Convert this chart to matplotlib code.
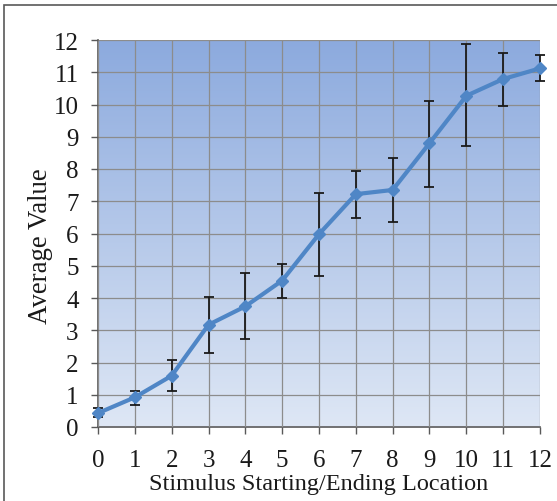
import matplotlib
matplotlib.use("Agg")
import matplotlib.pyplot as plt
import numpy as np
from matplotlib.patches import Rectangle

locations = list(range(13))
avg_value = [0.43, 0.92, 1.59, 3.17, 3.74, 4.54, 5.98, 7.22, 7.35, 8.80, 10.27, 10.79, 11.12]
err_low = [0.30, 0.68, 1.11, 2.30, 2.73, 3.99, 4.69, 6.49, 6.35, 7.45, 8.70, 9.96, 10.72]
err_high = [0.58, 1.13, 2.09, 4.02, 4.78, 5.04, 7.25, 7.95, 8.35, 10.12, 11.88, 11.59, 11.53]

plt.rcParams["font.family"] = ["Liberation Serif", "DejaVu Serif"]

fig = plt.figure(figsize=(5.57, 5.02), dpi=100)
ax = fig.add_axes([98 / 557, 1 - 428 / 502, 442 / 557, 387 / 502])

# frame around the chart area
fig.patches.append(Rectangle((4 / 557, -0.1), 1.2, (502 - 6) / 502 + 0.1,
                             transform=fig.transFigure, fill=False,
                             edgecolor="#595959", linewidth=1.2))

# vertical gradient fill behind the plot
top = np.array([140, 170, 222]) / 255
bottom = np.array([222, 231, 245]) / 255
t = np.linspace(0, 1, 256)[:, None]
grad = (top * (1 - t) + bottom * t)[:, None, :]
ax.imshow(grad, extent=[0, 12, 0, 12], aspect="auto", origin="upper", zorder=0)

ax.set_xlim(0, 12)
ax.set_ylim(0, 12)
ax.set_xticks(locations)
ax.set_yticks(range(13))
ax.grid(True, color="#8c8c8c", linewidth=0.9, zorder=1)
ax.set_axisbelow(False)

yerr = [np.array(avg_value) - np.array(err_low), np.array(err_high) - np.array(avg_value)]
ax.errorbar(locations, avg_value, yerr=yerr, fmt="none", ecolor="#1a1a1a",
            elinewidth=1.3, capsize=3.5, capthick=1.3, zorder=3, clip_on=False)
ax.plot(locations, avg_value, color="#4f86c6", linewidth=3, marker="D",
        markersize=6, zorder=4, clip_on=False)

for side in ["top", "right"]:
    ax.spines[side].set_visible(False)
for side in ["left", "bottom"]:
    ax.spines[side].set_color("#595959")
    ax.spines[side].set_linewidth(1.2)

ax.tick_params(axis="both", direction="out", length=5, width=1, color="#595959",
               labelsize=18, labelcolor="#1a1a1a")
ax.tick_params(axis="x", pad=11)
ax.tick_params(axis="y", pad=9)

ax.set_xlabel("Stimulus Starting/Ending Location", fontsize=17.5, color="#1a1a1a", labelpad=1)
ax.set_ylabel("Average Value", fontsize=19.4, color="#1a1a1a")
ax.yaxis.set_label_coords(-0.102, 0.47)

fig.savefig("out.png", dpi=100)
